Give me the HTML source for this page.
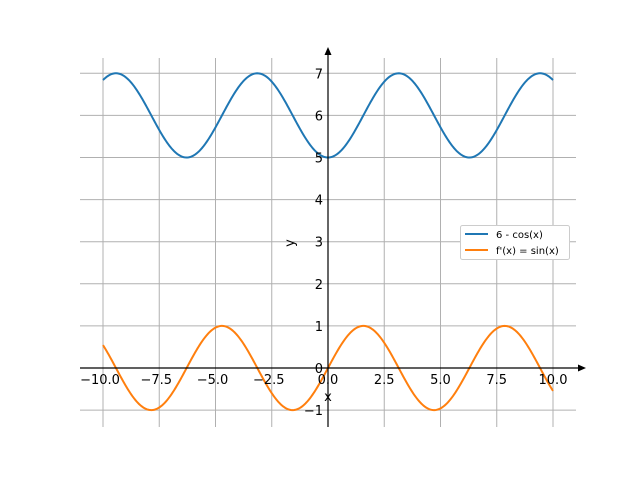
<!DOCTYPE html>
<html><head><meta charset="utf-8"><style>body{margin:0;background:#fff}svg{display:block}text{font-family:"DejaVu Sans","Liberation Sans",sans-serif;font-size:13px;fill:#000}</style></head>
<body>
<svg id="s" width="640" height="480" xmlns="http://www.w3.org/2000/svg">
<g id="grid" stroke="#b0b0b0" stroke-width="1"></g>
<path id="c1" fill="none" stroke="#1f77b4" stroke-width="2"/>
<path id="c2" fill="none" stroke="#ff7f0e" stroke-width="2"/>
<line x1="80" y1="368" x2="582" y2="368" stroke="#000" stroke-width="1.2"/>
<polygon points="586,368 578,364.5 578,371.5" fill="#000"/>
<line x1="328" y1="427" x2="328" y2="52" stroke="#000" stroke-width="1.2"/>
<polygon points="328,47 324.5,55 331.5,55" fill="#000"/>
<g id="lab"></g>
<text x="328" y="401" text-anchor="middle">x</text>
<text transform="translate(294,243) rotate(-90)" text-anchor="middle">y</text>
<rect x="460.5" y="225.5" width="109" height="34" fill="#fff" stroke="#ccc" rx="2"/>
<line x1="465" y1="234" x2="488" y2="234" stroke="#1f77b4" stroke-width="2"/>
<line x1="465" y1="250" x2="488" y2="250" stroke="#ff7f0e" stroke-width="2"/>
<text x="496" y="238" style="font-size:10px">6 - cos(x)</text>
<text x="496" y="254" style="font-size:10px">f'(x) = sin(x)</text>
</svg>
<script>
var X=function(x){return 328+22.5*x},Y=function(y){return 368-42.1*y};
var g=document.getElementById('grid'),lab=document.getElementById('lab'),h='',l='';
for(var i=-4;i<=4;i++){var x=X(i*2.5);h+='<line x1="'+x+'" y1="58" x2="'+x+'" y2="427"/>';
var t=(i*2.5).toFixed(1).replace('-','\u2212');l+='<text x="'+(x-(i<0?3:0))+'" y="384" text-anchor="middle">'+t+'</text>';}
for(var j=-1;j<=7;j++){var y=Y(j);h+='<line x1="80" y1="'+y+'" x2="576" y2="'+y+'"/>';
l+='<text x="323" y="'+(y+5)+'" text-anchor="end">'+(j<0?'\u2212'+(-j):j)+'</text>';}
g.innerHTML=h;lab.innerHTML=l;
var a='',b='';for(var k=0;k<=400;k++){var x=-10+k*0.05;a+=(k?'L':'M')+X(x).toFixed(2)+','+Y(6-Math.cos(x)).toFixed(2);b+=(k?'L':'M')+X(x).toFixed(2)+','+Y(Math.sin(x)).toFixed(2);}
document.getElementById('c1').setAttribute('d',a);document.getElementById('c2').setAttribute('d',b);
</script>
</body></html>
